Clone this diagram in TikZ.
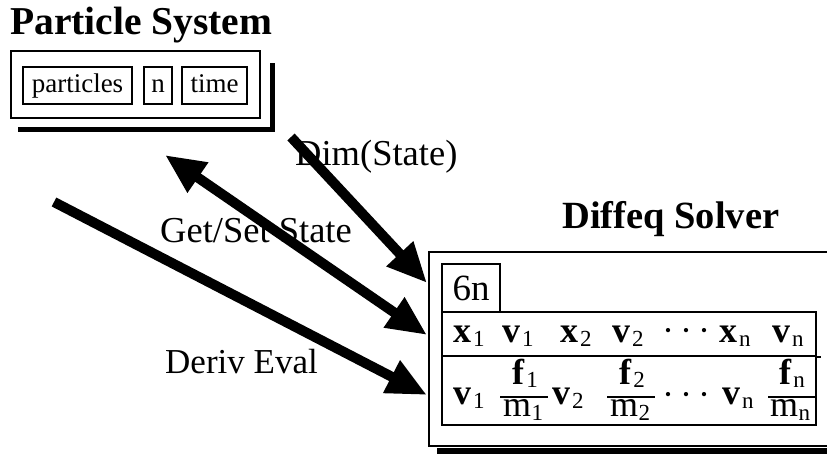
\documentclass[tikz,border=0pt]{standalone}
\usepackage{fontspec}
\setmainfont{Liberation Serif}
\usetikzlibrary{arrows.meta}

\newcommand{\subfont}{\fontsize{23}{23}\selectfont}
\newcommand{\bsub}[2]{\textbf{#1}\kern2pt\raisebox{-4pt}{\subfont #2}}
\newcommand{\fsub}[2]{\textbf{#1}\kern2pt\raisebox{-3pt}[\height][0pt]{\subfont #2}}
\newcommand{\rsub}[2]{#1\kern0.5pt\raisebox{-4pt}{\subfont #2}}

\tikzset{
    boxtitle/.style={anchor=base west, inner sep=0pt, font=\bfseries\fontsize{38.5}{38.5}\selectfont},
    fieldbox/.style={draw, line width=1.6pt, inner sep=0pt, minimum height=37pt,
        text height=19pt, text depth=6pt, font=\fontsize{27}{27}\selectfont},
    rowbox/.style={draw, line width=1.6pt, inner sep=0pt, minimum width=374pt},
    mathtext/.style={anchor=base west, inner sep=0pt, font=\fontsize{36}{36}\selectfont},
    fractext/.style={anchor=base, inner sep=0pt, font=\fontsize{36}{36}\selectfont},
    lbl/.style={anchor=base west, inner sep=0pt, font=\fontsize{36.5}{36.5}\selectfont},
    bigarrow/.style={line width=10pt, -{Triangle[length=40pt,width=34pt]}},
}

\begin{document}
\begin{tikzpicture}[x=1pt,y=-1pt]
    \useasboundingbox (0,0) rectangle (827,453);

    % particle system
    \node[boxtitle, font=\bfseries\fontsize{39.5}{39.5}\selectfont] (pstitle) at (10,34) {Particle System};
    \node[draw, line width=1.5pt, inner sep=0pt, minimum width=249pt, minimum height=67pt] (psys) at (135.5,84.5) {};
    \draw[line width=5.5pt] (272.5,63) -- (272.5,129.5) -- (18,129.5);
    \node[fieldbox, minimum width=109pt] (particles) at (77.5,85.5) {particles};
    \node[fieldbox, minimum width=28pt] (n) at (158,85.5) {n};
    \node[fieldbox, minimum width=65pt] (time) at (214.5,85.5) {time};

    % diffeq solver
    \node[boxtitle] (dstitle) at (562,228) {Diffeq Solver};
    \node[draw, line width=1.5pt, inner sep=0pt, minimum width=405pt, minimum height=194pt] (solver) at (631.5,349) {};
    \draw[line width=6pt] (437,451) -- (840,451);
    \node[draw, line width=1.6pt, inner sep=0pt, minimum width=58pt, minimum height=48pt,
        text height=24pt, text depth=0pt, font=\fontsize{37}{37}\selectfont] (dim) at (471,288) {6n};
    \node[rowbox, minimum height=44pt] (staterow) at (629,334) {};
    \node[rowbox, minimum height=69pt] (derivrow) at (629,390.5) {};
    \draw[line width=1.6pt] (staterow.south east) -- ++(4,0);

    \node[mathtext] (x1) at (453,342) {\bsub{x}{1}};
    \node[mathtext] (v1) at (502,342) {\bsub{v}{1}};
    \node[mathtext] (x2) at (560,342) {\bsub{x}{2}};
    \node[mathtext] (v2) at (612,342) {\bsub{v}{2}};
    \node[mathtext] (sdots) at (662,342) {·\kern6pt·\kern6pt·};
    \node[mathtext] (xn) at (719,342) {\bsub{x}{n}};
    \node[mathtext] (vn) at (772,342) {\bsub{v}{n}};

    \node[mathtext] (dv1) at (453,404) {\bsub{v}{1}};
    \node[fractext] (f1) at (525,384) {\fsub{f}{1}};
    \draw[line width=2pt] (500,397) -- (548,397);
    \node[fractext] (m1) at (523,416) {\rsub{m}{1}};
    \node[mathtext] (dv2) at (552,404) {\bsub{v}{2}};
    \node[fractext] (f2) at (632,384) {\fsub{f}{2}};
    \draw[line width=2pt] (607,397) -- (655,397);
    \node[fractext] (m2) at (630,416) {\rsub{m}{2}};
    \node[mathtext] (ddots) at (662,406) {·\kern6pt·\kern6pt·};
    \node[mathtext] (dvn) at (722,404) {\bsub{v}{n}};
    \node[fractext] (fn) at (792,384) {\fsub{f}{n}};
    \draw[line width=2pt] (768,397) -- (815,397);
    \node[fractext] (mn) at (790,416) {\rsub{m}{n}};

    % calls between them
    \node[lbl] (dimlbl) at (295,165) {Dim(State)};
    \node[lbl] (getsetlbl) at (160,242) {Get/Set State};
    \node[lbl, font=\fontsize{35}{35}\selectfont] (derivlbl) at (165,373) {Deriv Eval};

    \coordinate (dimfrom) at (291,137);
    \coordinate (dimto) at (427,283);
    \coordinate (getfrom) at (165,155);
    \coordinate (getto) at (427,335);
    \coordinate (derivfrom) at (54,202);
    \coordinate (derivto) at (427,395);
    \draw[bigarrow] (dimfrom) -- (dimto);
    \draw[bigarrow, {Triangle[length=40pt,width=34pt]}-{Triangle[length=40pt,width=34pt]}] (getfrom) -- (getto);
    \draw[bigarrow] (derivfrom) -- (derivto);
\end{tikzpicture}
\end{document}
